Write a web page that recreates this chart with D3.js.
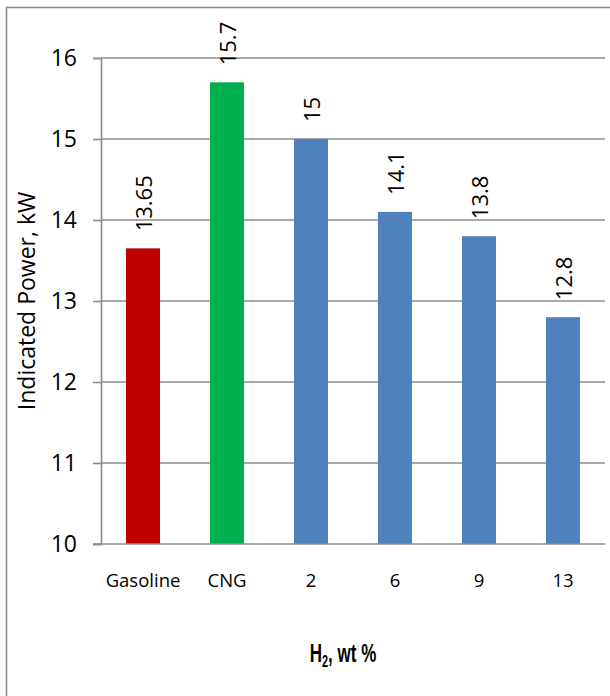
<!DOCTYPE html>
<html>
<head>
<meta charset="utf-8">
<script src="https://cdn.jsdelivr.net/npm/d3@7"></script>
<style>
  html, body { margin: 0; padding: 0; background: #fff; }
  svg { display: block; }
</style>
</head>
<body>
<svg id="chart" width="610" height="696"></svg>
<script>
// Indicated power by fuel / hydrogen share
const categories = ["Gasoline", "CNG", "2", "6", "9", "13"];
const power = [13.65, 15.7, 15, 14.1, 13.8, 12.8];
const barColors = ["#C00000", "#00B050", "#4F81BD", "#4F81BD", "#4F81BD", "#4F81BD"];
const yTicks = [10, 11, 12, 13, 14, 15, 16];

const svg = d3.select("#chart");
const plot = { left: 101, right: 605, top: 58, bottom: 544 };

// outer frame of the chart area
svg.append("rect")
  .attr("x", 6.5).attr("y", 7.5)
  .attr("width", 800).attr("height", 800)
  .attr("fill", "#fff")
  .attr("stroke", "#8c8c8c")
  .attr("stroke-width", 1.6);

const x = d3.scaleBand()
  .domain(categories)
  .range([plot.left, plot.right])
  .paddingInner(0.595)
  .paddingOuter(0.595 / 2);

const y = d3.scaleLinear()
  .domain([10, 16])
  .range([plot.bottom, plot.top]);

const font = "'Open Sans', sans-serif";

// horizontal gridlines
svg.append("g")
  .selectAll("line")
  .data(yTicks.filter(t => t > 10))
  .join("line")
  .attr("x1", plot.left).attr("x2", plot.right)
  .attr("y1", d => y(d)).attr("y2", d => y(d))
  .attr("stroke", "#8c8c8c")
  .attr("stroke-width", 1.6);

// bars
svg.append("g")
  .selectAll("rect")
  .data(categories)
  .join("rect")
  .attr("x", d => x(d))
  .attr("width", x.bandwidth())
  .attr("y", (d, i) => y(power[i]))
  .attr("height", (d, i) => y(10) - y(power[i]))
  .attr("fill", (d, i) => barColors[i]);

// y axis
const yAxis = svg.append("g")
  .attr("transform", `translate(${plot.left},0)`)
  .call(d3.axisLeft(y).tickValues(yTicks).tickFormat(d3.format("d")).tickSize(8).tickPadding(16));
yAxis.select(".domain").attr("stroke", "#8c8c8c").attr("stroke-width", 1.6);
yAxis.selectAll(".tick line").attr("stroke", "#8c8c8c").attr("stroke-width", 1.6);
yAxis.selectAll(".tick text")
  .attr("font-family", font).attr("font-size", 23).attr("fill", "#000");

// x axis
const xAxis = svg.append("g")
  .attr("transform", `translate(0,${plot.bottom})`)
  .call(d3.axisBottom(x).tickSize(0).tickPadding(30));
xAxis.select(".domain")
  .attr("d", `M${plot.left - 8},0H${plot.right}`)
  .attr("stroke", "#8c8c8c").attr("stroke-width", 1.6);
xAxis.selectAll(".tick text")
  .attr("font-family", font).attr("font-size", 18.5).attr("fill", "#000");

// value labels above bars
svg.append("g")
  .selectAll("text")
  .data(categories)
  .join("text")
  .attr("transform", (d, i) => `translate(${x(d) + x.bandwidth() / 2 + 1},${y(power[i]) - 17}) rotate(-90)`)
  .attr("dy", "0.36em")
  .attr("text-anchor", "start")
  .attr("font-family", font)
  .attr("font-size", 22)
  .attr("fill", "#000")
  .text((d, i) => String(power[i]));

// y axis title
svg.append("text")
  .attr("transform", `translate(27,${(plot.top + plot.bottom) / 2}) rotate(-90)`)
  .attr("dy", "0.36em")
  .attr("text-anchor", "middle")
  .attr("font-family", font)
  .attr("font-size", 23)
  .attr("fill", "#000")
  .text("Indicated Power, kW");

// x axis title with subscript, condensed bold
const xt = svg.append("text")
  .attr("transform", `translate(343,662) scale(0.68,1)`)
  .attr("text-anchor", "middle")
  .attr("font-family", "'Liberation Sans', Arial, sans-serif")
  .attr("font-weight", "bold")
  .attr("font-size", 25)
  .attr("fill", "#000");
xt.append("tspan").text("H");
xt.append("tspan").attr("font-size", 16).attr("dy", 5).text("2");
xt.append("tspan").attr("dy", -5).text(", wt %");
</script>
</body>
</html>
